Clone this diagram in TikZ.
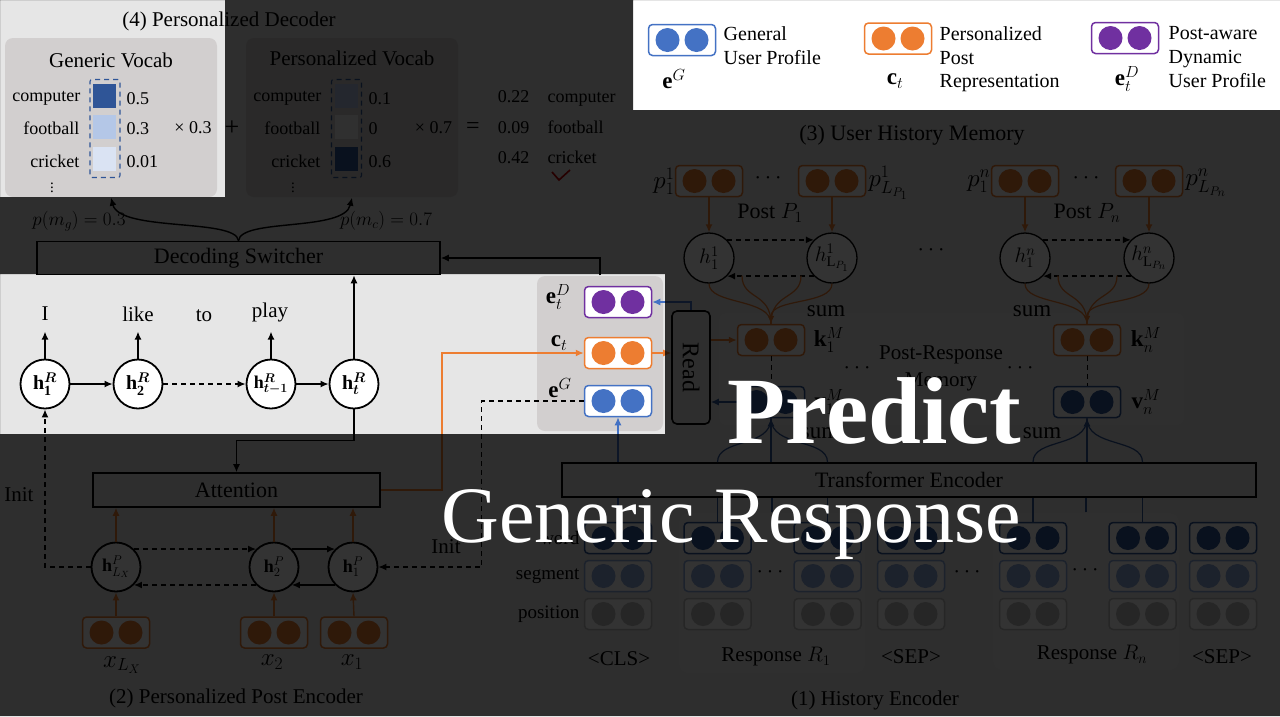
\RequirePackage{fix-cm}
\documentclass[tikz,border=0pt]{standalone}
\usepackage{amsmath}
\usepackage{fontspec}
\setmainfont{Liberation Serif}
\usepackage{bm}
\usetikzlibrary{arrows.meta}
\definecolor{blueC}{HTML}{4472C4}
\definecolor{orangeC}{HTML}{ED7D31}
\definecolor{purpleC}{HTML}{7030A0}
\definecolor{navyC}{HTML}{2F5597}
\definecolor{segC}{HTML}{8FAADC}
\definecolor{posC}{HTML}{BFBFBF}
\definecolor{redC}{HTML}{C00000}
\definecolor{pageC}{HTML}{E6E6E6}
\definecolor{panelC}{HTML}{D2CFCF}
\definecolor{softC}{HTML}{EFEFEF}
\definecolor{cellA}{HTML}{2F5597}
\definecolor{cellB}{HTML}{B4C7E7}
\definecolor{cellC}{HTML}{DAE3F3}
\definecolor{cellD}{HTML}{F2F2F2}
\newcommand\fsz[1]{\fontsize{#1}{#1}\selectfont}
\newcommand\embbox[4]{%
  \node[emb, draw=#3] (#1) at (#2) {};
  \fill[#4] (#1.center) ++(-14.5,0) circle (12pt);
  \fill[#4] (#1.center) ++(14.5,0) circle (12pt);
}
\tikzset{
  txt/.style={inner sep=0pt, font=\fsz{21}},
  sm/.style={inner sep=0pt, font=\fsz{18}},
  lg/.style={inner sep=0pt, font=\fsz{20}, anchor=base west},
  blk/.style={draw, line width=1.6pt, inner sep=0pt, font=\fsz{22}},
  rnn/.style={circle, draw, line width=1.8pt, fill=white, minimum size=49pt, inner sep=0pt, font=\fsz{20}},
  mem/.style={circle, draw, line width=1.3pt, fill=white, minimum size=50pt, inner sep=0pt, font=\fsz{21}},
  emb/.style={rectangle, rounded corners=4pt, minimum width=67pt, minimum height=31pt, fill=white, line width=1.5pt, inner sep=0pt},
  dsh/.style={dash pattern=on 5pt off 4pt},
  vlab/.style={inner sep=0pt, font=\fsz{23}},
  cell/.style={minimum width=23pt, minimum height=24pt, inner sep=0pt},
  dbox/.style={draw=navyC, dsh, line width=1.1pt, rounded corners=2pt, minimum width=30pt, minimum height=98pt, inner sep=0pt},
  vpanel/.style={fill=panelC, rounded corners=8pt, minimum width=212pt, minimum height=159pt, inner sep=0pt},
}
\begin{document}
\begin{tikzpicture}[x=1pt,y=-1pt,line width=1.4pt,>={Latex[length=8pt,width=7pt]}]
\useasboundingbox (0,0) rectangle (1280,716);
\fill[pageC] (0,0) rectangle (1280,716);

%% ===== (4) Personalized Decoder =====
\node[txt] (t4) at (229,21) {(4) Personalized Decoder};
\node[vpanel] (gvp) at (111,117.5) {};
\node[vpanel] (pvp) at (352,117.5) {};
\node[txt] (gvt) at (111,60) {Generic Vocab};
\node[txt] (pvt) at (352,58) {Personalized Vocab};
% generic
\node[sm, anchor=base east] (gw1) at (81,101) {computer};
\node[sm, anchor=base east] (gw2) at (80,134) {football};
\node[sm, anchor=base east] (gw3) at (80,167) {cricket};
\node[cell, fill=cellA] (gc1) at (104.5,96) {};
\node[cell, fill=cellB] (gc2) at (104.5,127) {};
\node[cell, fill=cellC] (gc3) at (104.5,159) {};
\node[dbox] (gdb) at (105,128.5) {};
\node[sm, anchor=base west] (gv1) at (126,104) {0.5};
\node[sm, anchor=base west] (gv2) at (126,134) {0.3};
\node[sm, anchor=base west] (gv3) at (126,167) {0.01};
\node[sm] (gx) at (193,128) {× 0.3};
\node[inner sep=0pt, font=\fsz{26}] (plus) at (232,128) {+};
\node[inner sep=0pt, font=\fsz{15}] (gdots) at (52,185) {$\vdots$};
% personalized
\node[sm, anchor=base east] (pw1) at (322,101) {computer};
\node[sm, anchor=base east] (pw2) at (321,134) {football};
\node[sm, anchor=base east] (pw3) at (321,167) {cricket};
\node[cell, fill=cellB] (pc1) at (346.5,96) {};
\node[cell, fill=cellD] (pc2) at (346.5,127) {};
\node[cell, fill=cellA] (pc3) at (346.5,159) {};
\node[dbox] (pdb) at (346.5,128.5) {};
\node[sm, anchor=base west] (pv1) at (368,104) {0.1};
\node[sm, anchor=base west] (pv2) at (368,134) {0};
\node[sm, anchor=base west] (pv3) at (368,167) {0.6};
\node[sm] (px) at (433.5,128) {× 0.7};
\node[inner sep=0pt, font=\fsz{15}] (pdots) at (293,185) {$\vdots$};
\node[inner sep=0pt, font=\fsz{24}] (eq) at (473,128) {=};
% result
\node[sm, anchor=base east] (rv1) at (530,102) {0.22};
\node[sm, anchor=base east] (rv2) at (530,133) {0.09};
\node[sm, anchor=base east] (rv3) at (530,163) {0.42};
\node[sm, anchor=base west] (rw1) at (547,102) {computer};
\node[sm, anchor=base west] (rw2) at (547,133) {football};
\node[sm, anchor=base west] (rw3) at (547,163) {cricket};
\draw[redC, line width=1.6pt] (552,172) -- (559,180) -- (570,170);

% switcher
\node[blk, minimum width=403pt, minimum height=33pt] (ds) at (238.5,258) {Decoding Switcher};
\draw[->] (ds.north) .. controls (236,218) and (120,232) .. (gvp.south);
\draw[->] (ds.north) .. controls (241,218) and (344,232) .. (pvp.south);
\node[inner sep=0pt, font=\fsz{19}] (pmg) at (79,221) {$p(m_g)=0.3$};
\node[inner sep=0pt, font=\fsz{19}] (pmc) at (386,221) {$p(m_c)=0.7$};

% decoder RNN
\node[rnn] (h1R) at (45,384) {$\mathbf{h}^{\bm{R}}_{\mathbf{1}}$};
\node[rnn] (h2R) at (138,384) {$\mathbf{h}^{\bm{R}}_{\mathbf{2}}$};
\node[rnn, font=\fsz{18}] (h3R) at (271,384) {$\mathbf{h}^{\bm{R}}_{\bm{t-1}}$};
\node[rnn] (h4R) at (354,384) {$\mathbf{h}^{\bm{R}}_{\bm{t}}$};
\draw[->] (h1R) -- (h2R);
\draw[->,dsh] (h2R) -- (h3R);
\draw[->] (h3R) -- (h4R);
\node[txt] (wI) at (45,314) {I};
\node[txt] (wlike) at (138,314) {like};
\node[txt] (wto) at (204,316) {to};
\node[txt] (wplay) at (270,312) {play};
\draw[->] (h1R.north) -- ++(0,-27);
\draw[->] (h2R.north) -- ++(0,-27);
\draw[->] (h3R.north) -- ++(0,-27);
\draw[->] (h4R.north) -- (ds.south -| h4R.north);

% e panel
\node[fill=panelC, rounded corners=8pt, minimum width=126pt, minimum height=155pt, inner sep=0pt] (ep) at (600,353.5) {};
\embbox{eD}{618,302}{purpleC}{purpleC}
\embbox{ct}{618,353}{orangeC}{orangeC}
\embbox{eG}{618,401}{blueC}{blueC}
\node[vlab] (eDl) at (558,297) {$\mathbf{e}^{D}_{t}$};
\node[vlab] (ctl) at (559,343) {$\mathbf{c}_{t}$};
\node[vlab] (eGl) at (560,388) {$\mathbf{e}^{G}$};
\draw[->] (ep.north) |- (ds.east);

%% ===== (2) Personalized Post Encoder =====
\node[blk, minimum width=287pt, minimum height=34pt] (att) at (236.5,490) {Attention};
\node[rnn, font=\fsz{18}] (hLx) at (116,567) {$\mathbf{h}^{P}_{L_X}$};
\node[rnn, font=\fsz{18}] (h2P) at (274,567) {$\mathbf{h}^{P}_{2}$};
\node[rnn, font=\fsz{18}] (h1P) at (353,567) {$\mathbf{h}^{P}_{1}$};
\draw[->,dsh] (hLx.45) -- (h2P.135);
\draw[->] (h2P.45) -- (h1P.135);
\draw[->] (h1P.-135) -- (h2P.-45);
\draw[->,dsh] (h2P.-135) -- (hLx.-45);
\embbox{xL}{116,632.5}{orangeC}{orangeC}
\embbox{x2}{274,632.5}{orangeC}{orangeC}
\embbox{x1}{354,632.5}{orangeC}{orangeC}
\node[inner sep=0pt, font=\fsz{25}] (xLl) at (122,665) {$x_{L_X}$};
\node[inner sep=0pt, font=\fsz{25}] (x2l) at (272,662) {$x_2$};
\node[inner sep=0pt, font=\fsz{25}] (x1l) at (352,662) {$x_1$};
\draw[->,orangeC] (xL.north) -- (hLx.south);
\draw[->,orangeC] (x2.north) -- (h2P.south);
\draw[->,orangeC] (x1.north) -- (h1P.south);
\draw[->,orangeC] (hLx.north) -- (hLx.north |- att.south);
\draw[->,orangeC] (h2P.north) -- (h2P.north |- att.south);
\draw[->,orangeC] (h1P.north) -- (h1P.north |- att.south);
\draw[->] (h4R.south) -- ++(0,31) -| (att.north);
\draw[->,dsh] (hLx.west) -| (h1R.south);
\node[txt] (init1) at (19,495) {Init};
\draw[->,dsh] (eG.west) -- ++(-102,0) |- (h1P.east);
\node[txt] (init2) at (446,547) {Init};
\draw[->,orangeC] (att.east) -- ++(61,0) |- (ct.west);
\node[txt] (t2) at (236,698) {(2) Personalized Post Encoder};

%% ===== (3) User History Memory =====
\node[txt, font=\fsz{22}] (t3) at (912,135) {(3) User History Memory};
\embbox{p11}{709,181}{orangeC}{orangeC}
\embbox{p1L}{832,181}{orangeC}{orangeC}
\embbox{pn1}{1025,181}{orangeC}{orangeC}
\embbox{pnL}{1149,181}{orangeC}{orangeC}
\node[vlab, anchor=east, font=\fsz{25}] (p11l) at (675,181) {$p^1_1$};
\node[vlab, anchor=west, font=\fsz{25}] (p1Ll) at (868,183) {$p^1_{L_{P_1}}$};
\node[vlab, anchor=east, font=\fsz{25}] (pn1l) at (991,181) {$p^n_1$};
\node[vlab, anchor=west, font=\fsz{25}] (pnLl) at (1185,183) {$p^n_{L_{P_n}}$};
\node[vlab] (dp1) at (770,178) {$\cdots$};
\node[vlab] (dp2) at (1088,178) {$\cdots$};
\node[txt, font=\fsz{22}] (pp1) at (770,213) {Post $P_1$};
\node[txt, font=\fsz{22}] (ppn) at (1087,213) {Post $P_n$};
\node[mem] (h11) at (709,258) {$h^1_1$};
\node[mem] (h1L) at (832,258) {$h^1_{\mathrm{L}_{P_1}}$};
\node[mem] (hn1) at (1025,258) {$h^n_1$};
\node[mem] (hnL) at (1149,258) {$h^n_{\mathrm{L}_{P_n}}$};
\node[vlab] (dmid) at (933,250) {$\cdots$};
\draw[->,orangeC] (p11.south) -- (h11.north);
\draw[->,orangeC] (p1L.south) -- (h1L.north);
\draw[->,orangeC] (pn1.south) -- (hn1.north);
\draw[->,orangeC] (pnL.south) -- (hnL.north);
\draw[->,dsh] (h11.45) -- (h1L.135);
\draw[->,dsh] (h1L.-135) -- (h11.-45);
\draw[->,dsh] (hn1.45) -- (hnL.135);
\draw[->,dsh] (hnL.-135) -- (hn1.-45);

\node[fill=softC, rounded corners=8pt, minimum width=465pt, minimum height=112pt, inner sep=0pt] (prm) at (951.5,369) {};
\node[txt] (prt1) at (941,355) {Post-Response};
\node[txt] (prt2) at (941,382) {Memory};
\node[vlab] (dm1) at (859,368) {$\cdots$};
\node[vlab] (dm2) at (1022,368) {$\cdots$};
\embbox{k1}{771,340}{orangeC}{orangeC}
\embbox{kn}{1087,340}{orangeC}{orangeC}
\embbox{v1}{771,402}{navyC}{navyC}
\embbox{vn}{1087,402}{navyC}{navyC}
\node[vlab] (k1l) at (829,340) {$\mathbf{k}^{M}_{1}$};
\node[vlab] (v1l) at (829,402) {$\mathbf{v}^{M}_{1}$};
\node[vlab] (knl) at (1146,340) {$\mathbf{k}^{M}_{n}$};
\node[vlab] (vnl) at (1146,402) {$\mathbf{v}^{M}_{n}$};
\draw[dsh, line width=1pt] (k1.south) -- (v1.north);
\draw[dsh, line width=1pt] (kn.south) -- (vn.north);
\coordinate (a1) at (742,275.7);
\coordinate (a2) at (801,275.7);
\coordinate (a3) at (1058,275.7);
\coordinate (a4) at (1117,275.7);
\draw[orangeC, line width=1.2pt] (h11.south) .. controls (709,305) and (771,298) .. (k1.north);
\draw[orangeC, line width=1.2pt] (a1) .. controls (742,300) and (771,292) .. (k1.north);
\draw[orangeC, line width=1.2pt] (a2) .. controls (801,300) and (771,292) .. (k1.north);
\draw[->,orangeC, line width=1.2pt] (h1L.south) .. controls (832,305) and (771,298) .. (k1.north);
\draw[orangeC, line width=1.2pt] (hn1.south) .. controls (1025,305) and (1087,298) .. (kn.north);
\draw[orangeC, line width=1.2pt] (a3) .. controls (1058,300) and (1087,292) .. (kn.north);
\draw[orangeC, line width=1.2pt] (a4) .. controls (1117,300) and (1087,292) .. (kn.north);
\draw[->,orangeC, line width=1.2pt] (hnL.south) .. controls (1149,305) and (1087,298) .. (kn.north);
\node[txt, font=\fsz{23}] (s1) at (826,311) {sum};
\node[txt, font=\fsz{23}] (s2) at (1032,311) {sum};
\node[txt, font=\fsz{23}] (s3) at (820,433) {sum};
\node[txt, font=\fsz{23}] (s4) at (1042,433) {sum};

% Read
\node[draw, rounded corners=5pt, line width=1.6pt, minimum width=38pt, minimum height=113pt, inner sep=0pt] (rd) at (691,367.5) {};
\node[rotate=-90, font=\fsz{24}, inner sep=0pt] (rdt) at (rd.center) {Read};
\draw[->,orangeC] (ct.east) -- (rd.west |- ct.east);
\draw[->,blueC] (rd.north) |- (eD.east);
\draw[->,orangeC] (rd.east |- k1.west) -- (k1.west);
\draw[->,navyC] (v1.west) -- (rd.east |- v1.west);

%% ===== (1) History Encoder =====
\node[blk, minimum width=694pt, minimum height=34pt] (tr) at (909,480) {Transformer Encoder};
\node[fill=softC, rounded corners=10pt, minimum width=186pt, minimum height=160pt, inner sep=0pt] (r1p) at (772,593) {};
\node[fill=softC, rounded corners=10pt, minimum width=186pt, minimum height=157pt, inner sep=0pt] (rnp) at (1086,591.5) {};
\foreach \n/\x in {cls/618, ra/717.5, rb/827.5, sa/911, na/1033, nb/1142.5, sb/1223}{
  \embbox{\n-w}{\x,538}{navyC}{navyC}
  \embbox{\n-s}{\x,576}{segC}{segC}
  \embbox{\n-p}{\x,614}{posC}{posC}
}
\node[inner sep=0pt, font=\fsz{19}, anchor=east] (lw) at (580,538) {word};
\node[inner sep=0pt, font=\fsz{19}, anchor=east] (ls) at (580,576) {segment};
\node[inner sep=0pt, font=\fsz{19}, anchor=east] (lp) at (580,614) {position};
\node[vlab] (de1) at (772,572) {$\cdots$};
\node[vlab] (de2) at (969,572) {$\cdots$};
\node[vlab] (de3) at (1087,570) {$\cdots$};
\node[txt] (bcls) at (619,659) {<CLS>};
\node[txt] (br1) at (776,657) {Response $R_1$};
\node[txt] (bsep1) at (911,657) {<SEP>};
\node[txt] (brn) at (1092,655) {Response $R_n$};
\node[txt] (bsep2) at (1222,657) {<SEP>};
\node[txt] (t1) at (875,700) {(1) History Encoder};
\draw[blueC] (cls-w.north) -- (cls-w.north |- tr.south);
\draw[->,blueC] (eG.south |- tr.north) -- (eG.south);
\foreach \n in {ra,rb,na,nb}{ \draw[navyC, line width=1.2pt] (\n-w.north) -- (\n-w.north |- tr.south); }
\draw[navyC, line width=1.2pt] (r1p.north) -- (r1p.north |- tr.south);
\draw[navyC, line width=1.2pt] (rnp.north) -- (rnp.north |- tr.south);
\draw[->,navyC, line width=1.2pt] (v1.south |- tr.north) -- (v1.south);
\draw[navyC, line width=1.2pt] (ra-w.north |- tr.north) .. controls (717.5,438) and (771,448) .. (v1.south);
\draw[navyC, line width=1.2pt] (rb-w.north |- tr.north) .. controls (827.5,438) and (771,448) .. (v1.south);
\draw[->,navyC, line width=1.2pt] (vn.south |- tr.north) -- (vn.south);
\draw[navyC, line width=1.2pt] (na-w.north |- tr.north) .. controls (1033,438) and (1087,448) .. (vn.south);
\draw[navyC, line width=1.2pt] (nb-w.north |- tr.north) .. controls (1142.5,438) and (1087,448) .. (vn.south);

%% ===== Legend =====
\fill[white] (633,0) rectangle (1280,110);
\embbox{lgG}{682,40}{blueC}{blueC}
\node[lg] (lgG1) at (723,40) {General};
\node[lg] (lgG2) at (723,64) {User Profile};
\node[vlab] (lgGl) at (674,79) {$\mathbf{e}^{G}$};
\embbox{lgC}{898,38.5}{orangeC}{orangeC}
\node[lg] (lgC1) at (939,40) {Personalized};
\node[lg] (lgC2) at (939,64) {Post};
\node[lg] (lgC3) at (939,87) {Representation};
\node[vlab] (lgCl) at (895,81) {$\mathbf{c}_{t}$};
\embbox{lgD}{1125,38}{purpleC}{purpleC}
\node[lg] (lgD1) at (1168,39) {Post-aware};
\node[lg] (lgD2) at (1168,63) {Dynamic};
\node[lg] (lgD3) at (1168,87) {User Profile};
\node[vlab] (lgDl) at (1127,79) {$\mathbf{e}^{D}_{t}$};

%% ===== Dark overlay with highlighted windows =====
\fill[black, opacity=0.8, even odd rule] (0,0) rectangle (1280,716)
  (0,0) rectangle (225,197)
  (633,0) rectangle (1280,110)
  (0,274) rectangle (665,434);

\node[inner sep=0pt, anchor=base east, text=white, font=\bfseries\fsz{95}] (pred) at (1022,443) {Predict};
\node[inner sep=0pt, anchor=base east, text=white, font=\fsz{80}] (gresp) at (1022,542) {Generic Response};
\end{tikzpicture}
\end{document}
